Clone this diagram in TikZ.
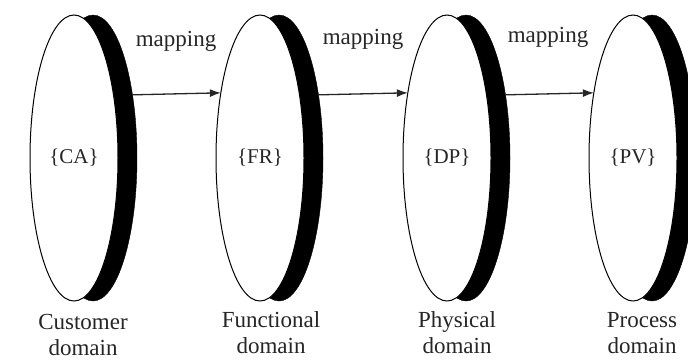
\documentclass[tikz,border=0pt]{standalone}
\usepackage{fontspec}
\setmainfont{Liberation Serif}
\usetikzlibrary{shapes.geometric,arrows.meta}
\begin{document}
\begin{tikzpicture}[x=1pt,y=-1pt,
  face/.style={ellipse,draw=black,line width=1pt,fill=white,inner sep=0pt,outer sep=0pt,
    minimum width=88pt,minimum height=286pt,font=\fontsize{21}{24}\selectfont,text=black!85},
  rim/.style={ellipse,fill=black,draw=black,inner sep=0pt,outer sep=0pt,
    minimum width=88pt,minimum height=286pt},
  maplabel/.style={font=\fontsize{23}{26}\selectfont,text=black!85},
  domlabel/.style={font=\fontsize{23}{26}\selectfont,align=center,text=black!85},
  maparrow/.style={-{Latex[length=11pt,width=8pt]},line width=1.3pt,black!85}]
\useasboundingbox (0,0) rectangle (688,360);
\fill[white] (0,0) rectangle (688,360);
% disks
\node[rim]  (b1) at (93,158) {};
\node[face] (f1) at (74,158) {\{CA\}};
\node[rim]  (b2) at (279,158) {};
\node[face] (f2) at (260,158) {\{FR\}};
\node[rim]  (b3) at (466,158) {};
\node[face] (f3) at (447,158) {\{DP\}};
\node[rim]  (b4) at (652,158) {};
\node[face] (f4) at (633,158) {\{PV\}};
% arrows
\draw[maparrow] (b1.58.4) -- (f2.121.6);
\draw[maparrow] (b2.58.4) -- (f3.121.6);
\draw[maparrow] (b3.58.4) -- (f4.121.6);
% mapping labels
\node[maplabel] (m1) at (176,41) {mapping};
\node[maplabel] (m2) at (363,39) {mapping};
\node[maplabel] (m3) at (548,37) {mapping};
% domain labels
\node[domlabel] (d1) at (83,335) {Customer\\domain};
\node[domlabel] (d2) at (271,333) {Functional\\domain};
\node[domlabel] (d3) at (457,333) {Physical\\domain};
\node[domlabel] (d4) at (642,333) {Process\\domain};
\end{tikzpicture}
\end{document}
